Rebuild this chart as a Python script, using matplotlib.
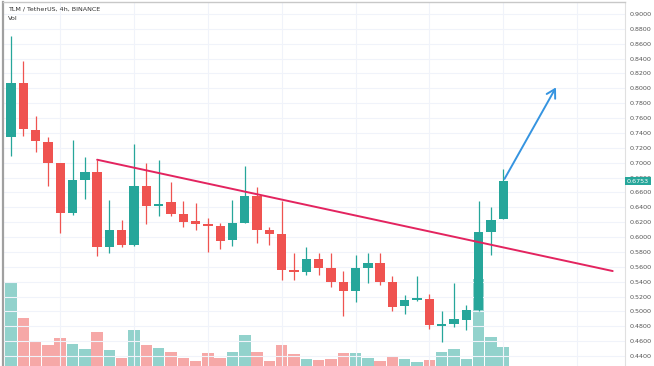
import matplotlib
matplotlib.use("Agg")
import matplotlib.pyplot as plt
import numpy as np

# ---- data ----
opens  = [0.734, 0.807, 0.744, 0.728, 0.699, 0.632, 0.677, 0.687, 0.587, 0.610,
          0.589, 0.669, 0.642, 0.647, 0.631, 0.621, 0.618, 0.615, 0.596, 0.619,
          0.655, 0.609, 0.604, 0.556, 0.553, 0.571, 0.558, 0.540, 0.527, 0.559,
          0.565, 0.539, 0.507, 0.516, 0.517, 0.481, 0.483, 0.489, 0.502, 0.607,
          0.624]
highs  = [0.870, 0.837, 0.763, 0.734, 0.700, 0.730, 0.707, 0.704, 0.650, 0.623,
          0.725, 0.699, 0.704, 0.674, 0.648, 0.646, 0.625, 0.619, 0.650, 0.695,
          0.667, 0.614, 0.648, 0.579, 0.587, 0.579, 0.579, 0.555, 0.576, 0.579,
          0.579, 0.547, 0.522, 0.548, 0.524, 0.501, 0.538, 0.509, 0.648, 0.640,
          0.691]
lows   = [0.709, 0.736, 0.715, 0.669, 0.606, 0.630, 0.651, 0.575, 0.579, 0.586,
          0.588, 0.618, 0.628, 0.628, 0.613, 0.610, 0.580, 0.584, 0.588, 0.619,
          0.592, 0.589, 0.542, 0.542, 0.549, 0.549, 0.533, 0.494, 0.512, 0.538,
          0.536, 0.500, 0.497, 0.514, 0.476, 0.459, 0.479, 0.475, 0.500, 0.576,
          0.624]
closes = [0.807, 0.745, 0.729, 0.699, 0.633, 0.677, 0.687, 0.587, 0.610, 0.589,
          0.669, 0.642, 0.645, 0.631, 0.620, 0.618, 0.615, 0.595, 0.619, 0.655,
          0.609, 0.604, 0.556, 0.553, 0.571, 0.559, 0.540, 0.527, 0.559, 0.565,
          0.539, 0.506, 0.516, 0.517, 0.482, 0.482, 0.490, 0.502, 0.607, 0.623,
          0.6753]
volumes = [82.7, 47.7, 25.0, 21.0, 27.7, 22.0, 16.7, 33.7, 16.0, 8.0,
           36.0, 20.7, 18.3, 13.7, 7.7, 5.3, 12.7, 7.7, 13.7, 30.7,
           14.3, 5.0, 20.7, 11.7, 7.0, 6.0, 6.7, 13.3, 12.7, 7.7,
           5.3, 10.0, 7.0, 4.3, 6.0, 13.7, 16.7, 7.0, 86.7, 29.3,
           19.3]
price_ticks = [round(0.44 + 0.02 * k, 2) for k in range(24)]
last_price = 0.6753
trend_x = [7.0, 48.9]
trend_y = [0.704, 0.5543]
arrow_start = (40.0, 0.675)
arrow_end = (44.4, 0.8045)
title_text = "TLM / TetherUS, 4h, BINANCE"
vol_text = "Vol"

UP = "#26a69a"
DN = "#ef5350"

fig = plt.figure(figsize=(6.54, 3.66), dpi=100)
pos = [3 / 654, 0.0, (625 - 3) / 654, (366 - 2) / 366]

xlim = (-0.65, 49.9)
ylim = (0.4266, 0.9161)

axv = fig.add_axes(pos)
axv.set_xlim(*xlim)
axv.set_ylim(0, 364)
axv.axis("off")

ax = fig.add_axes(pos)
ax.set_facecolor("none")
ax.set_xlim(*xlim)
ax.set_ylim(*ylim)

n = len(opens)
x = np.arange(n)
up = np.array(closes) >= np.array(opens)
cols = [UP if u else DN for u in up]

# gridlines
for t in price_ticks:
    ax.axhline(t, color="#f0f3fa", lw=0.8, zorder=0)
for gx in range(4, 50, 6):
    ax.axvline(gx, color="#f0f3fa", lw=0.8, zorder=0)

# volume
axv.bar(x, volumes, width=0.93, color=cols, alpha=0.5, lw=0, zorder=1)

# candles
o = np.array(opens); c = np.array(closes)
bottoms = np.minimum(o, c)
heights = np.maximum(np.abs(c - o), 0.0018)
ax.vlines(x, lows, highs, colors=cols, lw=0.9, zorder=3)
ax.bar(x, heights, bottom=bottoms, width=0.76, color=cols, lw=0, zorder=4)

# trend line
ax.plot(trend_x, trend_y, color="#e3245f", lw=1.4, zorder=5, solid_capstyle="round")

# arrow
ax.annotate("", xy=arrow_end, xytext=arrow_start,
            arrowprops=dict(arrowstyle="->,head_length=0.6,head_width=0.35",
                            color="#3594e0", lw=1.4), zorder=6)

# axes styling
ax.set_xticks([])
ax.yaxis.tick_right()
ax.set_yticks(price_ticks)
ax.set_yticklabels([f"{t:.4f}" for t in price_ticks])
ax.tick_params(axis="y", length=0, pad=3, labelsize=4.6, labelcolor="#555555")
for s in ["bottom"]:
    ax.spines[s].set_visible(False)
ax.spines["left"].set_color("#a0a0a0")
ax.spines["left"].set_linewidth(1.6)
ax.spines["top"].set_color("#c8c8c8")
ax.spines["top"].set_linewidth(1.0)
ax.spines["right"].set_color("#e0e0e0")
ax.spines["right"].set_linewidth(0.8)

# price tag
ax.text(1.003, last_price, f"{last_price:.4f}", transform=ax.get_yaxis_transform(),
        ha="left", va="center", fontsize=4.6, color="white", zorder=10,
        bbox=dict(boxstyle="square,pad=0.25", fc=UP, ec="none"), clip_on=False)

# titles
fig.text(8 / 654, 1 - 9 / 366, title_text, fontsize=4.6, color="#333333",
         ha="left", va="center")
fig.text(8 / 654, 1 - 19 / 366, vol_text, fontsize=4.6, color="#333333",
         ha="left", va="center")

fig.savefig("out.png", dpi=100, facecolor="white")
